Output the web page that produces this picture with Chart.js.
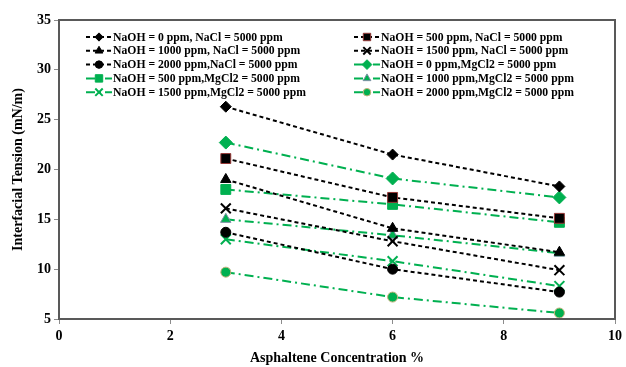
<!DOCTYPE html>
<html>
<head>
<meta charset="utf-8">
<script src="https://cdn.jsdelivr.net/npm/chart.js@4"></script>
<style>
  html, body { margin: 0; padding: 0; background: #fff; }
  #wrap { width: 626px; height: 367px; }
</style>
</head>
<body>
<div id="wrap"><canvas id="myChart" width="626" height="367"></canvas></div>
<script>
const concentrations = [3, 6, 9];

// NaCl = 5000 ppm series
const naclNaoh0 = [26.3, 21.5, 18.3];
const naclNaoh500 = [21.1, 17.2, 15.1];
const naclNaoh1000 = [19.0, 14.1, 11.7];
const naclNaoh1500 = [16.1, 12.8, 9.9];
const naclNaoh2000 = [13.7, 10.0, 7.7];

// MgCl2 = 5000 ppm series
const mgNaoh0 = [22.7, 19.1, 17.2];
const mgNaoh500 = [18.0, 16.5, 14.7];
const mgNaoh1000 = [15.0, 13.4, 11.6];
const mgNaoh1500 = [13.0, 10.8, 8.3];
const mgNaoh2000 = [9.7, 7.2, 5.6];

const xTicks = [0, 2, 4, 6, 8, 10];

const GREEN = '#00b050';
const SERIF = "'Liberation Serif', 'Times New Roman', serif";

function naclSet(label, data, style, radius, border) {
  return {
    label, data: data.map((y, i) => ({ x: concentrations[i], y })),
    borderColor: '#000', borderWidth: 2, borderDash: [4, 3],
    pointStyle: style, pointRadius: radius,
    pointBackgroundColor: '#000', pointBorderColor: border || '#000',
    pointBorderWidth: style === 'crossRot' ? 2 : 1
  };
}
function mgSet(label, data, style, radius, border) {
  return {
    label, data: data.map((y, i) => ({ x: concentrations[i], y })),
    borderColor: GREEN, borderWidth: 2, borderDash: [9, 4, 2, 4],
    pointStyle: style, pointRadius: radius,
    pointBackgroundColor: GREEN, pointBorderColor: border || GREEN,
    pointBorderWidth: style === 'crossRot' ? 2 : 1
  };
}

// legend order is row by row, two columns
const datasets = [
  naclSet('NaOH = 0 ppm, NaCl = 5000 ppm', naclNaoh0, 'rectRot', 5.5),
  naclSet('NaOH = 500 ppm, NaCl = 5000 ppm', naclNaoh500, 'rect', 7, '#953735'),
  naclSet('NaOH = 1000 ppm, NaCl = 5000 ppm', naclNaoh1000, 'triangle', 6),
  naclSet('NaOH = 1500 ppm, NaCl = 5000 ppm', naclNaoh1500, 'crossRot', 7),
  naclSet('NaOH = 2000 ppm,NaCl = 5000 ppm', naclNaoh2000, 'circle', 5),
  mgSet('NaOH = 0 ppm,MgCl2 = 5000 ppm', mgNaoh0, 'rectRot', 6.5),
  mgSet('NaOH = 500 ppm,MgCl2 = 5000 ppm', mgNaoh500, 'rect', 7),
  mgSet('NaOH = 1000 ppm,MgCl2 = 5000 ppm', mgNaoh1000, 'triangle', 6, '#7f8fa6'),
  mgSet('NaOH = 1500 ppm,MgCl2 = 5000 ppm', mgNaoh1500, 'crossRot', 7),
  mgSet('NaOH = 2000 ppm,MgCl2 = 5000 ppm', mgNaoh2000, 'circle', 5, '#c4b27a')
];

// frame round the plot area
const frame = {
  id: 'frame',
  afterDraw(chart) {
    const { ctx, chartArea: a } = chart;
    ctx.save();
    ctx.strokeStyle = '#595959';
    ctx.lineWidth = 2;
    ctx.strokeRect(a.left, a.top, a.right - a.left, a.bottom - a.top);
    ctx.restore();
  }
};

// two-column legend drawn inside the plot
const innerLegend = {
  id: 'innerLegend',
  afterDatasetsDraw(chart) {
    const ctx = chart.ctx;
    const cols = [86, 354];
    const top = 37, rowH = 13.8, sampleW = 26;
    ctx.save();
    ctx.font = 'bold 11.7px ' + SERIF;
    ctx.textBaseline = 'middle';
    chart.data.datasets.forEach((ds, i) => {
      const x = cols[i % 2];
      const y = top + Math.floor(i / 2) * rowH;
      ctx.strokeStyle = ds.borderColor;
      ctx.lineWidth = 2;
      ctx.setLineDash(ds.borderDash);
      ctx.beginPath();
      ctx.moveTo(x, y);
      ctx.lineTo(x + sampleW, y);
      ctx.stroke();
      ctx.setLineDash([]);
      ctx.fillStyle = ds.pointBackgroundColor;
      ctx.strokeStyle = ds.pointBorderColor;
      ctx.lineWidth = ds.pointBorderWidth;
      Chart.helpers.drawPoint(ctx, {
        pointStyle: ds.pointStyle, radius: ds.pointRadius * 0.75,
        rotation: 0, borderWidth: ds.pointBorderWidth
      }, x + sampleW / 2, y);
      ctx.fillStyle = '#000';
      ctx.fillText(ds.label, x + sampleW + 1, y + 0.5);
    });
    ctx.restore();
  }
};

const tickFont = { family: SERIF, size: 14, weight: 'bold' };

new Chart(document.getElementById('myChart').getContext('2d'), {
  type: 'line',
  data: { datasets },
  options: {
    responsive: false,
    animation: false,
    layout: { padding: { left: 10, top: 20, right: 9, bottom: 0 } },
    plugins: { legend: { display: false }, tooltip: { enabled: false } },
    elements: { line: { tension: 0, fill: false } },
    scales: {
      x: {
        type: 'linear', min: 0, max: 10,
        afterBuildTicks: s => { s.ticks = xTicks.map(v => ({ value: v })); },
        afterFit: s => { s.height = 48; },
        grid: { drawOnChartArea: false, drawTicks: true, tickLength: 5, color: '#8c8c8c' },
        border: { display: false },
        ticks: { color: '#000', font: tickFont, padding: 4, maxRotation: 0 },
        title: {
          display: true, text: 'Asphaltene Concentration %', color: '#000',
          font: tickFont, padding: { top: 4, bottom: 0 }
        }
      },
      y: {
        min: 5, max: 35,
        afterFit: s => { s.width = 49; },
        grid: { drawOnChartArea: false, drawTicks: true, tickLength: 5, color: '#8c8c8c' },
        border: { display: false },
        ticks: { stepSize: 5, color: '#000', font: tickFont, padding: 3 },
        title: {
          display: true, text: 'Interfacial Tension (mN/m)', color: '#000',
          font: tickFont, padding: { top: 0, bottom: 0 }
        }
      }
    }
  },
  plugins: [frame, innerLegend]
});
</script>
</body>
</html>
